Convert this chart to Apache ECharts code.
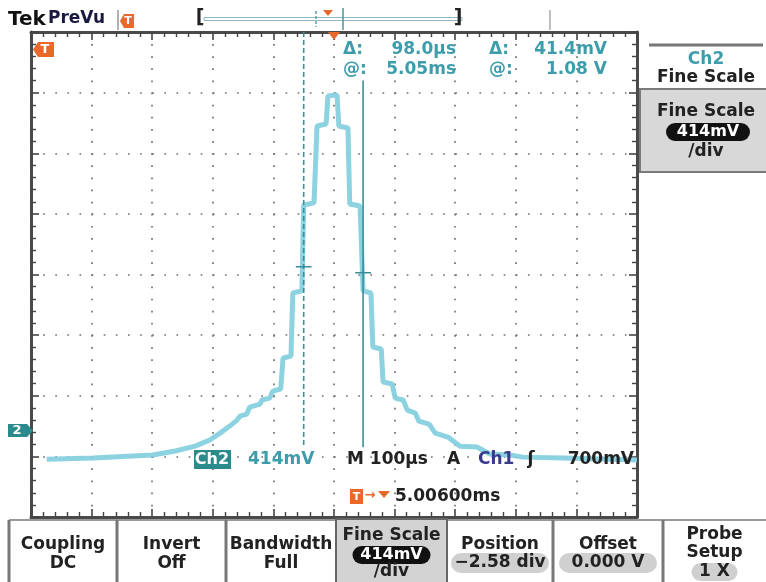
<!DOCTYPE html>
<html>
<head>
<meta charset="utf-8">
<script src="https://cdn.jsdelivr.net/npm/echarts@6/dist/echarts.min.js"></script>
<style>
html,body{margin:0;padding:0;background:#fff;}
#scope{width:766px;height:582px;}
</style>
</head>
<body>
<div id="scope"></div>
<script>
// Ch2 trace, time in µs from screen centre (delay 5.00600 ms), value in volts
var timeUs = [-474,-398,-299,-262,-229,-205,-188,-172,-160,-155,-144,-139,-122,-119,-106,-101,-88,-84,-71,-68,
  -53,-50,-33,-28,-13,-10,5,8,23,26,43,48,61,64,78,81,96,101,114,121,134,140,157,167,188,208,236,257,290,312,378,500];
var ch2Volts = [-0.193,-0.185,-0.165,-0.137,-0.104,-0.062,-0.015,0.033,0.074,0.101,0.115,0.163,0.183,0.211,0.224,0.272,0.286,0.498,0.511,0.942,
  0.956,1.543,1.557,2.082,2.096,2.288,2.294,2.082,2.069,1.550,1.536,0.956,0.942,0.573,0.559,0.334,0.320,0.224,0.211,0.142,0.122,0.067,0.047,-0.015,-0.042,-0.104,-0.110,-0.158,-0.165,-0.179,-0.185,-0.199];

var voltsPerDiv = 0.414;
var ch2Position = -2.58;          // div
var cursorTimes = [-50, 48];      // dashed, solid (µs)
var cursorVolts = [1.1214, 1.08]; // dashed, solid (V)
var cursorTop = [4, 3.2];         // div
var cursorBottom = -2.85;         // div
var crossHalf = 13;               // µs

var readout = [['Δ:', '98.0µs', 'Δ:', '41.4mV'], ['@:', '5.05ms', '@:', '1.08 V']];
var menuLabels = [['Coupling', 'DC'], ['Invert', 'Off'], ['Bandwidth', 'Full'], ['Fine Scale', '414mV', '/div'],
  ['Position', '−2.58 div'], ['Offset', '0.000 V'], ['Probe', 'Setup', '1 X']];

function toDiv(v) { return v / voltsPerDiv + ch2Position; }

var traceData = timeUs.map(function (t, i) { return [t, toDiv(ch2Volts[i])]; });

var myChart = echarts.init(document.getElementById('scope'));

var FONT = '"DejaVu Sans"';
var TEAL = '#3d9dab';
var ORANGE = '#e8692a';

function txt(x, y, s, color, size, align, weight) {
  return {
    type: 'text', x: x, y: y, z: 50,
    style: {
      text: s, fill: color || '#222',
      font: (weight || 'bold') + ' ' + (size || 17) + 'px ' + FONT,
      align: align || 'center', verticalAlign: 'middle',
      textAlign: align || 'center', textVerticalAlign: 'middle'
    }
  };
}
function rect(x, y, w, h, fill, stroke, lw, r) {
  return {
    type: 'rect', z: 40, shape: { x: x, y: y, width: w, height: h, r: r || 0 },
    style: { fill: fill || 'none', stroke: stroke || null, lineWidth: lw || 0 }
  };
}
function poly(points, fill) {
  return { type: 'polygon', z: 45, shape: { points: points }, style: { fill: fill } };
}
function seg(x1, y1, x2, y2, color, lw, dash) {
  return {
    type: 'line', z: 40, shape: { x1: x1, y1: y1, x2: x2, y2: y2 },
    style: { stroke: color, lineWidth: lw || 1, lineDash: dash || null }
  };
}

var g = [];
// header
g.push(txt(8, 20, 'Tek', '#111', 20, 'left', '900'));
g.push(txt(48, 19, 'PreVu', '#1a1a40', 17, 'left'));
g.push(seg(118, 10, 118, 30, '#999', 1.5));
g.push(poly([[124, 14], [134, 14], [134, 28], [124, 28], [120, 21]], ORANGE));
g.push(txt(128, 21, 'T', '#fff', 11, 'center'));
g.push(txt(200, 18, '[', '#222', 19, 'center'));
g.push(txt(458, 18, ']', '#222', 19, 'center'));
g.push(rect(204, 17.5, 258, 3, 'none', '#8fb9c2', 1));
g.push(seg(316, 11, 316, 27, '#5aa3b0', 1.5, [3, 2]));
g.push(poly([[323, 10], [333, 10], [328, 16]], ORANGE));
g.push(seg(343, 8, 343, 30, '#4a95a2', 1.5));
g.push(seg(550, 10, 550, 30, '#aaa', 1.5));

// graticule markers
g.push(poly([[38, 42], [54, 42], [54, 57], [38, 57], [33, 49.5]], ORANGE));
g.push(txt(45, 50, 'T', '#fff', 13, 'center'));
g.push(poly([[328, 32], [340, 32], [334, 40]], ORANGE));
g.push(poly([[8, 424], [27, 424], [33, 430.5], [27, 437], [8, 437]], '#2b8a8c'));
g.push(txt(17, 431, '2', '#fff', 13, 'center'));

// cursor readout
g.push(txt(343, 50, readout[0][0], TEAL, 17, 'left'));
g.push(txt(456, 50, readout[0][1], TEAL, 17, 'right'));
g.push(txt(489, 50, readout[0][2], TEAL, 17, 'left'));
g.push(txt(607, 50, readout[0][3], TEAL, 17, 'right'));
g.push(txt(343, 70, readout[1][0], TEAL, 17, 'left'));
g.push(txt(456, 70, readout[1][1], TEAL, 17, 'right'));
g.push(txt(489, 70, readout[1][2], TEAL, 17, 'left'));
g.push(txt(607, 70, readout[1][3], TEAL, 17, 'right'));

// status line
g.push(rect(194, 450, 37, 19, '#2b8a8c'));
g.push(txt(212, 460, 'Ch2', '#fff', 16, 'center'));
g.push(txt(248, 460, '414mV', TEAL, 17, 'left'));
g.push(txt(347, 460, 'M 100µs', '#222', 17, 'left'));
g.push(txt(447, 460, 'A', '#222', 17, 'left'));
g.push(txt(478, 460, 'Ch1', '#3a3a8c', 17, 'left'));
g.push(txt(531, 460, 'ʃ', '#222', 17, 'center'));
g.push(txt(634, 460, '700mV', '#222', 17, 'right'));
g.push(rect(350, 489, 13, 15, ORANGE));
g.push(txt(356.5, 497, 'T', '#fff', 11, 'center'));
g.push(txt(370, 496, '→', ORANGE, 13, 'center'));
g.push(poly([[378, 491], [390, 491], [384, 498]], ORANGE));
g.push(txt(395, 497, '5.00600ms', '#222', 17, 'left'));

// right side menu
g.push(seg(649, 45, 763, 45, '#777', 3));
g.push(txt(706, 60, 'Ch2', TEAL, 17, 'center'));
g.push(txt(706, 78, 'Fine Scale', '#222', 17, 'center'));
g.push(rect(640, 89, 128, 83, '#d8d8d8', '#7a7a7a', 2));
g.push(txt(706, 112, 'Fine Scale', '#222', 17, 'center'));
g.push(rect(666, 123, 84, 18, '#111', null, 0, 9));
g.push(txt(708, 132, '414mV', '#fff', 16, 'center'));
g.push(txt(706, 152, '/div', '#222', 17, 'center'));

// bottom menu
var sep = [9, 117, 226, 336, 447, 553, 663, 766];
g.push(seg(9, 520, 766, 520, '#999', 2));
g.push(rect(336, 519, 111, 64, '#d3d3d3', '#666', 2));
[9, 117, 226, 553, 663].forEach(function (x) { g.push(seg(x, 520, x, 582, '#777', 3)); });
menuLabels.forEach(function (lab, i) {
  var cx = (sep[i] + sep[i + 1]) / 2;
  if (i === 3) {
    g.push(txt(cx, 536, lab[0]));
    g.push(rect(cx - 39, 546, 78, 18, '#111', null, 0, 9));
    g.push(txt(cx, 555, lab[1], '#fff', 16));
    g.push(txt(cx, 572, lab[2]));
  } else if (i === 4 || i === 5) {
    g.push(txt(cx, 545, lab[0]));
    g.push(rect(cx - 49, 553, 98, 20, '#d0d0d0', null, 0, 10));
    g.push(txt(cx, 563, lab[1]));
  } else if (i === 6) {
    g.push(txt(cx, 535, lab[0]));
    g.push(txt(cx, 553, lab[1]));
    g.push(rect(cx - 23, 563, 46, 18, '#d0d0d0', null, 0, 9));
    g.push(txt(cx, 572, lab[2]));
  } else {
    g.push(txt(cx, 545, lab[0]));
    g.push(txt(cx, 564, lab[1]));
  }
});

// graticule: frame with ticks on all four sides, dotted divisions
function axis(pos, isX, grid) {
  return {
    type: 'value', position: pos,
    min: isX ? -500 : -4, max: isX ? 500 : 4, interval: isX ? 100 : 1,
    axisLine: { show: true, onZero: false, lineStyle: { color: '#4a4a4a', width: 3 } },
    axisTick: { show: true, inside: true, length: 8, lineStyle: { color: '#444', width: 1.6 } },
    minorTick: { show: true, splitNumber: 5, length: 5, lineStyle: { color: '#444', width: 1.4 } },
    axisLabel: { show: false },
    splitLine: { show: grid, lineStyle: { color: '#707070', width: 1.7, type: [1.7, 10.42] } }
  };
}

function cursorSeries(i, dashed) {
  var t = cursorTimes[i];
  return {
    type: 'line', silent: true, showSymbol: false, z: 4,
    data: [[t, cursorTop[i]], [t, cursorBottom]],
    lineStyle: { color: '#3a8e9b', width: 1.6, type: dashed ? [5, 3] : 'solid' }
  };
}
function crossSeries(i) {
  var t = cursorTimes[i], v = toDiv(cursorVolts[i]);
  return {
    type: 'line', silent: true, showSymbol: false, z: 4,
    data: [[t - crossHalf, v], [t + crossHalf, v]],
    lineStyle: { color: '#3a8e9b', width: 1.6 }
  };
}

myChart.setOption({
  animation: false,
  backgroundColor: '#fff',
  grid: { left: 31, top: 32, width: 606, height: 485 },
  xAxis: [axis('bottom', true, true), axis('top', true, false)],
  yAxis: [axis('left', false, true), axis('right', false, false)],
  series: [
    {
      type: 'line', data: traceData, showSymbol: false, silent: true, z: 3,
      lineStyle: { color: '#86d0de', width: 5, opacity: 0.95 }
    },
    cursorSeries(0, true),
    cursorSeries(1, false),
    crossSeries(0),
    crossSeries(1)
  ],
  graphic: g
});
</script>
</body>
</html>
